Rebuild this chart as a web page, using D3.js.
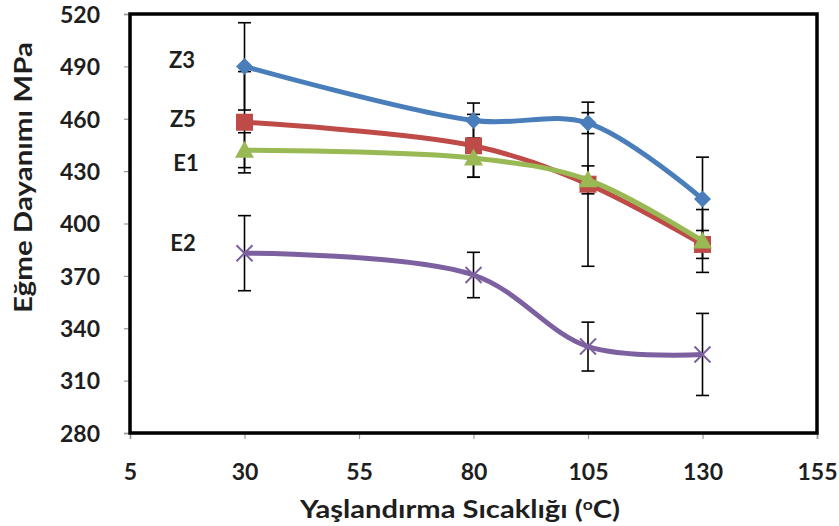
<!DOCTYPE html>
<html><head><meta charset="utf-8">
<script src="https://cdn.jsdelivr.net/npm/d3@7"></script>
<style>body{margin:0;background:#fff}svg{display:block}text{font-family:Lato,"Open Sans",sans-serif;font-weight:bold;fill:#1e1e1e}</style>
</head><body><svg id="c" width="839" height="526"></svg>
<script>
const temps = [30, 80, 105, 130];
const seriesNames = ["Z3", "Z5", "E1", "E2"];
const z3 = [490, 459, 457.5, 414];
const z3Err = [25, 10, 6, 24];
const z5 = [458, 444.5, 422.5, 388];
const z5Err = [29, 18, 47, 8];
const e1 = [442, 437.5, 425, 390];
const e1Err = [10, 11, 8, 18];
const e2 = [383, 370.5, 329.5, 325];
const e2Err = [21.5, 13, 14, 23.5];
const xTicks = [5, 30, 55, 80, 105, 130, 155];
const yTicks = [280, 310, 340, 370, 400, 430, 460, 490, 520];
const xTitle = "Yaşlandırma Sıcaklığı (";
const yTitle = "Eğme Dayanımı MPa";

const colors = ["#4a7ebb", "#be4b48", "#98b954", "#7d60a0"];
const shapes = ["diamond", "square", "triangle", "x"];
const vals = [z3, z5, e1, e2];
const errs = [z3Err, z5Err, e1Err, e2Err];

const svg = d3.select("#c");
const L = 130, R = 817, T = 14, B = 433;
const x = d3.scaleLinear().domain([5, 155]).range([L, R]);
const y = d3.scaleLinear().domain([280, 520]).range([B, T]);

// axes
const xa = svg.append("g").attr("transform", `translate(0,${B})`)
  .call(d3.axisBottom(x).tickValues(xTicks).tickSize(6).tickFormat(d3.format("d")));
const ya = svg.append("g").attr("transform", `translate(${L},0)`)
  .call(d3.axisLeft(y).tickValues(yTicks).tickSize(6).tickPadding(24).tickFormat(d3.format("d")));
[xa, ya].forEach(a => {
  a.select(".domain").attr("stroke", "#888").attr("stroke-width", 1.5);
  a.selectAll(".tick line").attr("stroke", "#999").attr("stroke-width", 1.2);
  a.selectAll(".tick text").style("font-size", "23px").attr("fill", "#1e1e1e");
});
ya.selectAll(".tick text").attr("dy", "0.36em");
xa.selectAll(".tick text").attr("y", 38.5).attr("dy", "0.36em");

// frame
svg.append("rect").attr("x", L).attr("y", T).attr("width", R - L).attr("height", B - T)
  .attr("fill", "none").attr("stroke", "#000").attr("stroke-width", 3.5);

// error bars
vals.forEach((v, si) => {
  const g = svg.append("g").attr("stroke", "#000").attr("stroke-width", 1.6);
  temps.forEach((t, i) => {
    const cx = x(t), hi = y(v[i] + errs[si][i]), lo = y(v[i] - errs[si][i]);
    g.append("line").attr("x1", cx).attr("x2", cx).attr("y1", hi).attr("y2", lo);
    g.append("line").attr("x1", cx - 6.5).attr("x2", cx + 6.5).attr("y1", hi).attr("y2", hi);
    g.append("line").attr("x1", cx - 6.5).attr("x2", cx + 6.5).attr("y1", lo).attr("y2", lo);
  });
});

const line = d3.line().x(d => x(d[0])).y(d => y(d[1])).curve(d3.curveCatmullRom.alpha(0.5));
vals.forEach((v, si) => {
  const pts = temps.map((t, i) => [t, v[i]]);
  svg.append("path").attr("d", line(pts)).attr("fill", "none")
    .attr("stroke", colors[si]).attr("stroke-width", 5).attr("stroke-linejoin", "round");
  const mg = svg.append("g");
  pts.forEach(p => {
    const cx = x(p[0]), cy = y(p[1]);
    const s = shapes[si];
    if (s === "diamond") {
      mg.append("path").attr("d", `M${cx},${cy-8.5}L${cx+8.5},${cy}L${cx},${cy+8.5}L${cx-8.5},${cy}Z`).attr("fill", colors[si]);
    } else if (s === "square") {
      mg.append("rect").attr("x", cx - 8.5).attr("y", cy - 8.5).attr("width", 17).attr("height", 17).attr("fill", colors[si]);
    } else if (s === "triangle") {
      mg.append("path").attr("d", `M${cx},${cy-9.5}L${cx+9.5},${cy+7.5}L${cx-9.5},${cy+7.5}Z`).attr("fill", colors[si]);
    } else {
      mg.append("path").attr("d", `M${cx-8},${cy-8}L${cx+8},${cy+8}M${cx-8},${cy+8}L${cx+8},${cy-8}`)
        .attr("stroke", colors[si]).attr("stroke-width", 2);
    }
  });
});

// series labels
const labelPos = [[182, 60], [183, 119], [186, 163], [183, 243]];
seriesNames.forEach((n, i) => {
  svg.append("text").attr("x", labelPos[i][0]).attr("y", labelPos[i][1]).attr("dy", "0.36em")
    .attr("text-anchor", "middle").style("font-size", "22px").text(n);
});

// titles
svg.append("text").attr("transform", "translate(32,177.5) rotate(-90)").attr("text-anchor", "middle")
  .attr("textLength", 271).attr("lengthAdjust", "spacingAndGlyphs")
  .style("font-size", "24px").text(yTitle);
const xt = svg.append("text").attr("x", 460).attr("y", 518).attr("text-anchor", "middle")
  .attr("textLength", 320).attr("lengthAdjust", "spacingAndGlyphs").style("font-size", "25px");
xt.append("tspan").text(xTitle);
xt.append("tspan").attr("dy", -8).style("font-size", "15px").text("o");
xt.append("tspan").attr("dy", 8).text("C)");
</script></body></html>
